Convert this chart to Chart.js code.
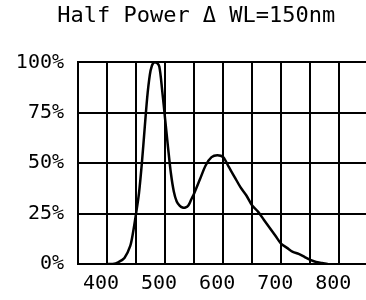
<!DOCTYPE html>
<html>
<head>
<meta charset="utf-8">
<script src="https://cdn.jsdelivr.net/npm/chart.js@4/dist/chart.umd.min.js"></script>
<style>
  html, body { margin: 0; padding: 0; background: #fff; }
  #wrap { width: 366px; height: 300px; }
</style>
</head>
<body>
<div id="wrap"><canvas id="canvas"></canvas></div>
<script>
"use strict";

// Longitudes de onda (nm) y potencia relativa (%)
const wavelengths = [400, 410, 420, 430, 440, 445, 450, 455, 460, 465, 470, 475, 480, 485, 490, 495,
  500, 505, 510, 515, 520, 525, 530, 535, 540, 545, 550, 560, 570, 580, 590, 600,
  610, 620, 630, 640, 650, 660, 670, 680, 690, 700, 710, 720, 730, 740, 750, 760, 770, 780];
const power = [0, 0, 1, 3, 9, 16, 25, 35, 50, 68, 85, 96, 100, 100, 98, 86,
  72, 58, 45, 36, 31, 29, 28, 28, 29, 32, 35, 42, 49, 53, 54, 53,
  48, 43, 38, 34, 29, 26, 22, 18, 14, 10, 8, 6, 5, 3.5, 2, 1, 0.5, 0];
const xLabels = [400, 500, 600, 700, 800];
const yLabels = [0, 25, 50, 75, 100];
const chartTitle = "  Half Power \u0394 WL=150nm";

const monoFont = "'DejaVu Sans Mono', monospace";

const points = wavelengths.map((w, i) => ({ x: w, y: power[i] }));

const ctx = document.getElementById("canvas").getContext("2d");

new Chart(ctx, {
  type: 'line',
  data: {
    datasets: [{
      data: points,
      borderColor: '#000',
      borderWidth: 2.5,
      pointRadius: 0,
      tension: 0.3,
      fill: false
    }]
  },
  options: {
    responsive: true,
    maintainAspectRatio: false,
    animation: false,
    layout: { padding: 0 },
    plugins: {
      legend: { display: false },
      tooltip: { enabled: false },
      title: {
        display: true,
        text: chartTitle,
        color: '#000',
        font: { family: monoFont, size: 22, weight: 'normal' },
        padding: { top: 3, bottom: 33 }
      }
    },
    scales: {
      x: {
        type: 'linear',
        min: 350,
        max: 846,
        afterBuildTicks: scale => {
          scale.ticks = scale.ticks.filter(t => t.value <= 801);
        },
        afterFit: scale => { scale.height = 36; },
        ticks: {
          stepSize: 50,
          includeBounds: false,
          color: '#000',
          font: { family: monoFont, size: 20, weight: 'normal' },
          padding: 8,
          labelOffset: -6,
          maxRotation: 0,
          autoSkip: false,
          callback: v => xLabels.includes(Math.round(v)) ? String(Math.round(v)) : ''
        },
        grid: { color: '#000', lineWidth: 2, drawTicks: false },
        border: { color: '#000', width: 2 }
      },
      y: {
        min: 0,
        max: 100,
        afterFit: scale => { scale.width = 78; },
        ticks: {
          stepSize: 25,
          color: '#000',
          font: { family: monoFont, size: 20, weight: 'normal' },
          padding: 14,
          callback: v => yLabels.includes(v) ? v + '%' : ''
        },
        grid: { color: '#000', lineWidth: 2, drawTicks: false },
        border: { color: '#000', width: 2 }
      }
    }
  }
});
</script>
</body>
</html>
